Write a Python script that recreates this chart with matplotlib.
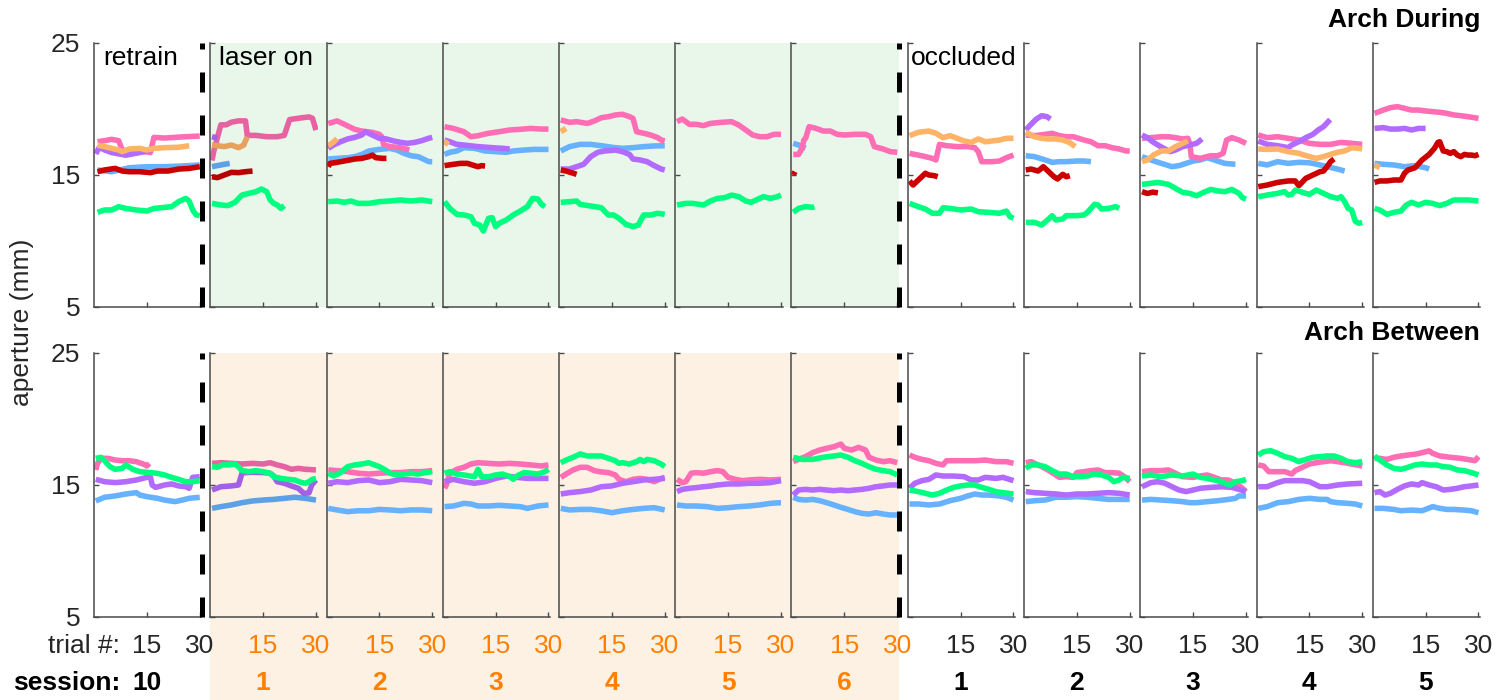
import matplotlib
matplotlib.use("Agg")
import matplotlib.pyplot as plt
from matplotlib.patches import Rectangle
from matplotlib.lines import Line2D

plt.rcParams['font.family'] = ['Liberation Sans', 'DejaVu Sans']

# ---------------------------------------------------------------- data
# running aperture (mm) per mouse, as (trial, value) pairs

# Arch During, retrain session 10
during_s10 = dict(
    pink=[(1, 17.52), (3, 17.6), (5, 17.7), (7, 17.6), (8, 16.9), (10, 16.8), (12, 16.7), (14, 16.8), (16, 16.7),
          (17, 17.85), (20, 17.8), (23, 17.85), (26, 17.9), (30, 17.95)],
    orange=[(1, 17.27), (3, 17.15), (5, 17.02), (7, 16.89), (8, 16.77), (10, 16.97), (13, 17.02), (15, 16.89),
            (17, 17.02), (20, 17.07), (24, 17.1), (27, 17.22)],
    purple=[(0.5, 16.6), (1.5, 17.1), (3, 16.9), (5, 16.7), (7, 16.6), (9, 16.5), (11, 16.6), (13, 16.7),
            (15, 16.8), (16, 16.9)],
    blue=[(1, 15.38), (5, 15.25), (10, 15.55), (15, 15.63), (20, 15.63), (25, 15.68), (30, 15.76)],
    red=[(1, 15.25), (3, 15.38), (6, 15.5), (8, 15.3), (10, 15.25), (13, 15.25), (16, 15.18), (18, 15.3),
         (21, 15.3), (24, 15.45), (27, 15.5), (30, 15.63)],
    green=[(1, 12.17), (3, 12.35), (5, 12.35), (7, 12.6), (9, 12.47), (12, 12.35), (15, 12.27), (17, 12.47),
           (19, 12.52), (22, 12.6), (24, 12.98), (26, 13.23), (27, 13.03), (28, 12.35), (29, 11.97), (30, 11.92)],
)

# Arch During, laser sessions 1-6
during_laser1 = dict(
    pink=[(0.5, 16.1), (1, 16.8), (2, 17.8), (3, 18.8), (4.5, 18.8), (6, 19.0), (8, 19.1), (10, 19.1),
          (10.5, 18.0), (13, 18.0), (16, 17.9), (19, 17.9), (21, 18.0), (22.5, 19.2), (25, 19.3), (28, 19.4),
          (29, 19.3), (30, 18.4)],
    orange=[(0.5, 17.27), (2, 17.22), (4, 17.15), (6, 17.27), (8, 17.07), (9.5, 17.27), (10.5, 17.9)],
    purple=[(0.5, 17.9), (2, 17.8)],
    blue=[(0.5, 15.63), (2, 15.71), (4, 15.81), (5.5, 15.88)],
    red=[(0.5, 14.87), (2, 14.8), (4, 15.0), (6, 15.2), (8, 15.18), (10, 15.25), (12, 15.3)],
    green=[(0.5, 12.85), (3, 12.73), (5, 12.68), (7, 12.93), (9, 13.48), (11, 13.61), (13, 13.74), (14.5, 13.94),
           (16, 13.74), (17, 13.11), (18, 12.85), (19, 12.73), (20, 12.47), (21, 12.68)],
)
during_laser2 = dict(
    pink=[(0.5, 18.9), (3, 19.1), (5, 18.85), (8, 18.46), (10, 18.33), (13, 18.23), (15, 18.08), (15.7, 17.9),
          (16.2, 17.3), (18, 17.15), (21, 17.07), (23.5, 16.9)],
    orange=[(0.5, 17.2), (2, 17.5), (3, 17.75)],
    purple=[(0.5, 17.02), (2, 17.27), (4, 17.52), (6, 17.73), (8, 17.85), (10, 18.03), (11, 18.28), (13, 18.03),
            (15, 17.78), (17, 17.73), (19, 17.58), (21, 17.47), (23, 17.4), (25, 17.47), (27, 17.6), (29, 17.78),
            (30, 17.85)],
    blue=[(0.5, 16.21), (3, 16.26), (6, 16.31), (8, 16.39), (10, 16.56), (12, 16.82), (15, 16.94), (18, 17.02),
          (20, 16.89), (22, 16.64), (24, 16.46), (26, 16.39), (28, 16.14), (29, 16.01), (30, 16.01)],
    red=[(0.5, 15.63), (1, 15.88), (3, 15.96), (5, 16.06), (8, 16.21), (10, 16.26), (12, 16.39), (13, 16.51),
         (14, 16.31), (16, 16.26), (17, 16.26)],
    green=[(0.5, 12.98), (3, 13.03), (5, 12.93), (7, 13.03), (9, 12.85), (12, 12.85), (15, 12.98), (18, 13.03),
           (21, 13.11), (24, 13.03), (27, 13.11), (30, 12.98)],
)
during_laser3 = dict(
    pink=[(0.5, 18.66), (3, 18.53), (6, 18.28), (8, 17.9), (10, 17.98), (13, 18.16), (16, 18.28), (19, 18.41),
          (22, 18.46), (25, 18.53), (28, 18.48), (30, 18.48)],
    orange=[(0.5, 17.27), (1.5, 17.6)],
    purple=[(0.5, 17.65), (2, 17.52), (4, 17.32), (6, 17.27), (10, 17.15), (14, 17.07), (17, 17.02), (19, 16.97)],
    blue=[(0.5, 16.56), (2, 16.72), (4, 16.82), (6, 17.07), (9, 17.02), (12, 16.82), (15, 16.77), (18, 16.72),
          (20, 16.82), (23, 16.89), (26, 16.94), (30, 16.94)],
    red=[(0.5, 15.71), (3, 15.81), (5, 15.88), (7, 15.88), (9, 15.71), (10, 15.63), (11, 15.71), (12, 15.68)],
    green=[(0.5, 12.98), (2, 12.47), (4, 12.02), (6, 11.97), (8, 11.84), (9, 11.34), (10.5, 11.21), (11.5, 10.76),
           (13, 11.72), (14, 11.77), (15, 11.09), (16, 11.34), (18, 11.59), (20, 11.97), (22, 12.27), (24, 12.6),
           (25.5, 13.23), (27, 13.18), (28, 12.78), (29, 12.6)],
)
during_laser4 = dict(
    pink=[(0.5, 19.17), (3, 18.99), (5, 19.04), (8, 18.91), (10, 19.09), (12, 19.34), (14, 19.42), (16, 19.55),
          (18, 19.6), (20, 19.42), (21, 19.29), (22, 18.28), (24, 18.16), (26, 18.03), (28, 17.83), (29, 17.65),
          (30, 17.58)],
    orange=[(0.5, 18.28), (2, 18.53)],
    blue=[(0.5, 16.82), (3, 17.15), (6, 17.32), (9, 17.32), (12, 17.22), (15, 17.1), (18, 17.02), (21, 17.07),
          (24, 17.15), (27, 17.2), (30, 17.22)],
    purple=[(0.5, 15.45), (3, 15.45), (5, 15.63), (7, 15.81), (9, 16.39), (11, 16.72), (13, 16.82), (16, 16.89),
            (18, 16.77), (20, 16.56), (21, 16.21), (23, 16.14), (25, 16.01), (27, 15.71), (29, 15.45), (30, 15.38)],
    red=[(0.5, 15.38), (2, 15.3), (3.5, 15.18), (5, 15.05)],
    green=[(0.5, 12.93), (3, 12.98), (5, 13.03), (6, 12.78), (9, 12.65), (12, 12.52), (14, 11.97), (15.5, 11.97),
           (17, 11.72), (19, 11.26), (21, 11.09), (22.5, 11.21), (24, 11.97), (26, 11.97), (28, 12.1), (30, 12.02)],
)
during_laser5 = dict(
    pink=[(0.5, 19.04), (2, 19.24), (4, 18.84), (6, 18.84), (8, 18.74), (10, 18.91), (13, 18.99), (16, 19.04),
          (18, 18.79), (20, 18.41), (22, 18.03), (24, 17.9), (26, 17.9), (28, 18.08), (30, 18.08)],
    green=[(0.5, 12.73), (3, 12.85), (5, 12.85), (8, 12.73), (10, 13.03), (12, 13.23), (14, 13.28), (16, 13.48),
           (18, 13.36), (20, 13.03), (21.5, 12.93), (23, 13.11), (25, 13.36), (27, 13.23), (29, 13.36), (30, 13.48)],
)
during_laser6 = dict(
    pink=[(0.5, 16.56), (2, 16.56), (3, 17.02), (3.5, 17.65), (4, 17.78), (5, 18.66), (7, 18.53), (9, 18.33),
          (11, 18.33), (13, 18.08), (15, 18.03), (18, 18.08), (21, 18.08), (22.5, 17.9), (23.5, 17.15), (26, 16.97),
          (28, 16.77), (30, 16.72)],
    blue=[(0.5, 17.4), (2, 17.27), (4, 17.02)],
    red=[(0.5, 15.0), (1, 15.25)],
    green=[(0.5, 12.17), (2, 12.47), (4, 12.6), (6, 12.55), (6.5, 12.6)],
)

# Arch During, occluded sessions 1-5
during_occ1 = dict(
    orange=[(0.5, 17.98), (3, 18.23), (6, 18.33), (8, 18.16), (10, 17.83), (12, 17.98), (14, 17.78), (16, 17.58),
            (18, 17.47), (20, 17.73), (22, 17.52), (24, 17.58), (26, 17.65), (28, 17.78), (30, 17.78)],
    pink=[(0.5, 16.64), (3, 16.51), (5, 16.39), (7, 16.26), (8, 16.14), (9, 17.32), (11, 17.22), (14, 17.15),
          (17, 17.15), (19, 17.07), (20, 16.77), (21, 16.01), (24, 16.01), (26, 16.06), (28, 16.31), (30, 16.51)],
    red=[(0.5, 14.55), (1.5, 14.24), (3, 14.62), (5, 15.13), (6, 15.0), (7.5, 14.95), (8.5, 14.87)],
    green=[(0.5, 12.85), (3, 12.6), (5, 12.42), (7, 12.1), (9, 12.1), (10, 12.52), (12, 12.47), (15, 12.35),
           (18, 12.42), (20, 12.22), (23, 12.17), (26, 12.1), (28, 12.27), (29, 11.84), (30, 11.72)],
)
during_occ2 = dict(
    purple=[(0.5, 18.41), (2, 18.84), (3.5, 19.24), (5, 19.49), (6.5, 19.42), (7.5, 19.24)],
    pink=[(0.5, 18.03), (3, 17.98), (6, 18.08), (8, 18.16), (10, 17.98), (12, 17.9), (14, 17.9), (17, 17.65),
          (19, 17.52), (21, 17.22), (23, 17.22), (25, 17.07), (27, 16.97), (29, 16.82), (30, 16.82)],
    orange=[(0.5, 18.23), (3, 17.9), (5, 17.78), (7, 17.73), (9, 17.73), (11, 17.65), (13, 17.45), (14.5, 17.15)],
    blue=[(0.5, 16.46), (3, 16.39), (6, 16.14), (8, 15.96), (10, 16.01), (12, 16.01), (15, 16.06), (17, 16.06),
          (19, 16.01)],
    red=[(0.5, 15.38), (2, 15.45), (4, 15.3), (5.5, 15.63), (7, 15.25), (8.5, 14.87), (9.5, 14.7), (11, 15.05),
         (12, 14.87), (13, 14.95)],
    green=[(0.5, 11.41), (3, 11.41), (5, 11.21), (7, 11.67), (8, 11.92), (9, 11.59), (11, 11.67), (12, 11.92),
           (15, 11.92), (17, 11.97), (18, 12.17), (19, 12.47), (20, 12.78), (21, 12.73), (22, 12.42), (24, 12.47),
           (26, 12.6), (27, 12.47)],
)
during_occ3 = dict(
    purple=[(0.5, 18.03), (2, 17.83), (3.5, 17.52), (5, 17.27), (7, 16.97), (8.5, 16.77), (10, 16.89), (12, 17.15),
            (14, 17.27), (16, 17.4), (17.5, 17.73)],
    pink=[(0.5, 17.78), (3, 17.83), (6, 17.9), (8, 17.9), (10, 17.83), (12, 17.73), (13.5, 17.78), (14, 17.4),
          (14.5, 16.39), (17, 16.26), (20, 16.46), (22, 16.46), (23.5, 16.64), (24.5, 17.65), (26, 17.83),
          (28, 17.65), (30, 17.4)],
    orange=[(0.5, 16.01), (2, 16.14), (4, 16.56), (6, 16.82), (8, 16.82), (10, 17.15), (12, 17.4), (13.5, 17.58)],
    blue=[(0.5, 16.39), (3, 16.14), (6, 15.88), (9, 15.63), (11, 15.71), (13, 15.88), (15, 16.06), (17, 16.14),
          (19, 16.31), (21, 16.14), (24, 15.88), (27, 15.81)],
    red=[(0.5, 13.74), (2, 13.6), (3.5, 13.7), (5, 13.65)],
    green=[(0.5, 14.29), (3, 14.37), (5, 14.44), (8, 14.29), (10, 13.99), (12, 13.69), (14, 13.61), (16, 13.43),
           (18, 13.69), (20, 13.91), (22, 13.79), (24, 13.74), (26, 13.91), (28, 13.61), (29, 13.28), (30, 13.18)],
)
during_occ4 = dict(
    purple=[(0.5, 17.58), (3, 17.32), (6, 17.22), (9, 17.07), (10, 17.27), (12, 17.52), (14, 17.83), (16, 18.08),
            (17.5, 18.41), (19, 18.66), (20.9, 19.2)],
    pink=[(0.5, 18.03), (3, 17.83), (6, 17.9), (9, 17.78), (12, 17.65), (15, 17.4), (18, 17.32), (21, 17.32),
          (24, 17.47), (27, 17.4), (30, 17.32)],
    orange=[(0.5, 16.97), (3, 16.94), (6, 16.97), (9, 16.77), (12, 16.64), (15, 16.39), (17, 16.26), (19, 16.39),
            (21, 16.56), (23, 16.72), (25, 16.82), (27, 17.07), (29, 17.02), (30, 16.97)],
    blue=[(0.5, 15.88), (3, 15.76), (6, 16.01), (9, 15.88), (12, 15.96), (15, 15.93), (18, 15.76), (20, 15.63),
          (23, 15.45), (25, 15.3)],
    red=[(0.5, 14.12), (3, 14.24), (6, 14.44), (9, 14.55), (11, 14.55), (12, 14.19), (14, 14.75), (16, 15.0),
         (18, 15.25), (19, 15.3), (20, 15.63), (21, 16.01), (22, 16.21)],
    green=[(0.5, 13.36), (3, 13.48), (6, 13.61), (8, 13.74), (9, 13.48), (10, 13.53), (11, 13.86), (13, 13.69),
           (15, 13.53), (17, 13.86), (19, 13.61), (21, 13.36), (23, 13.23), (24, 13.36), (25, 12.98), (26, 12.47),
           (27, 12.35), (28, 11.51), (29, 11.34), (30, 11.41)],
)
during_occ5 = dict(
    pink=[(0.5, 19.67), (3, 19.92), (5, 20.1), (7, 20.18), (9, 20.05), (11, 19.92), (13, 19.92), (15, 19.85),
          (17, 19.8), (19, 19.75), (21, 19.67), (23, 19.55), (25, 19.49), (27, 19.42), (30, 19.29)],
    purple=[(0.5, 18.53), (3, 18.59), (5, 18.48), (7, 18.48), (9, 18.53), (11, 18.41), (13, 18.53), (15, 18.53)],
    orange=[(0.5, 15.76), (2, 15.55)],
    blue=[(0.5, 15.88), (3, 15.81), (6, 15.76), (9, 15.63), (12, 15.71), (15, 15.55), (16, 15.45)],
    red=[(0.5, 14.44), (2, 14.55), (4, 14.55), (6, 14.62), (8, 14.62), (9, 15.13), (10, 15.38), (12, 15.55),
         (14, 16.14), (16, 16.56), (17.5, 17.02), (18.5, 17.47), (19, 17.52), (20, 16.82), (21, 16.77),
         (22, 16.64), (23, 16.77), (24, 16.51), (25, 16.39), (26, 16.56), (27, 16.51), (28, 16.51), (29, 16.46),
         (30, 16.56)],
    green=[(0.5, 12.47), (2, 12.35), (4, 12.02), (6, 12.17), (8, 12.27), (9.5, 12.73), (11, 12.93), (13, 12.73),
           (15, 12.93), (17, 12.85), (19, 12.68), (21, 12.85), (23, 13.11), (25, 13.11), (27, 13.11), (30, 13.03)],
)

# Arch Between, retrain session 10
between_s10 = dict(
    pink=[(0.5, 16.14), (1, 16.64), (2, 17.02), (4, 17.02), (6, 16.89), (8, 16.84), (10, 16.84), (12, 16.77),
          (14, 16.59), (15, 16.44), (15.7, 16.64)],
    green=[(0.5, 17.02), (2, 17.1), (3, 16.84), (4.5, 16.39), (6, 16.19), (8, 16.26), (9, 16.52), (11, 16.19),
           (13, 16.01), (16, 15.94), (18, 15.88), (20, 15.76), (22, 15.58), (24, 15.43), (26, 15.25), (28, 15.25),
           (30, 15.33)],
    purple=[(0.5, 15.43), (3, 15.25), (6, 15.18), (9, 15.25), (12, 15.38), (15, 15.58), (16, 15.63), (16.5, 15.0),
            (17.5, 14.82), (20, 15.0), (22, 15.08), (24, 14.93), (26, 14.87), (27, 14.75), (28, 15.58), (30, 15.63)],
    blue=[(0.5, 13.79), (3, 14.07), (6, 14.17), (9, 14.32), (12, 14.42), (13, 14.24), (15, 14.12), (18, 13.99),
          (20, 13.86), (23, 13.74), (25, 13.86), (27, 13.99), (30, 14.07)],
)

# Arch Between, laser sessions 1-6
between_laser1 = dict(
    pink=[(0.5, 16.64), (3, 16.69), (6, 16.64), (9, 16.59), (12, 16.64), (15, 16.59), (17, 16.69), (19, 16.52),
          (21, 16.39), (23, 16.19), (25, 16.26), (27, 16.19), (30, 16.14)],
    green=[(0.5, 16.39), (2, 16.34), (3.5, 16.52), (5, 16.52), (7, 16.59), (8, 16.39), (9, 16.09), (11, 16.01),
           (13, 16.09), (15, 16.01), (17, 15.88), (18, 15.63), (20, 15.5), (22, 15.43), (24, 15.38), (26, 15.18),
           (27, 15.13), (28, 15.25), (29, 15.43), (30, 15.5)],
    purple=[(0.5, 14.62), (3, 14.87), (6, 14.93), (8, 15.0), (9, 15.89), (10, 15.94), (12, 15.96), (15, 15.94),
            (17, 15.89), (18, 15.68), (19, 15.25), (21, 15.13), (23, 14.93), (25, 14.75), (26.5, 14.37), (28, 14.4),
            (28.8, 15.0), (30, 15.38)],
    blue=[(0.5, 13.23), (3, 13.36), (6, 13.49), (9, 13.66), (12, 13.79), (15, 13.86), (18, 13.91), (21, 13.99),
          (24, 14.07), (27, 13.99), (30, 13.86)],
)
between_laser2 = dict(
    pink=[(0.5, 16.14), (3, 16.09), (6, 16.01), (9, 15.89), (12, 15.83), (15, 15.89), (18, 15.94), (21, 15.94),
          (24, 16.01), (27, 16.01), (30, 16.09)],
    green=[(0.5, 15.89), (2, 15.68), (4, 15.94), (6, 16.39), (8, 16.52), (10, 16.59), (12, 16.69), (13, 16.59),
           (15, 16.39), (17, 16.09), (18, 15.89), (20, 15.76), (22, 15.83), (24, 15.89), (26, 15.83), (28, 15.94),
           (30, 16.01)],
    purple=[(0.5, 15.13), (3, 15.25), (6, 15.18), (9, 15.33), (12, 15.38), (15, 15.18), (18, 15.25), (21, 15.43),
            (24, 15.38), (27, 15.33), (30, 15.18)],
    blue=[(0.5, 13.23), (3, 13.11), (6, 12.98), (9, 13.05), (12, 13.05), (15, 13.15), (18, 13.11), (21, 13.05),
          (24, 13.11), (27, 13.11), (30, 13.05)],
)
between_laser3 = dict(
    pink=[(0.5, 14.75), (1, 15.0), (2, 15.89), (4, 16.19), (6, 16.34), (8, 16.59), (10, 16.69), (13, 16.64),
          (16, 16.59), (19, 16.64), (22, 16.59), (25, 16.52), (28, 16.44), (30, 16.52)],
    green=[(0.5, 15.89), (2, 16.01), (4, 15.83), (6, 15.76), (9, 15.63), (10, 16.19), (11, 15.63), (13, 15.63),
           (15, 15.76), (17, 15.83), (19, 15.63), (20, 15.43), (21, 15.68), (23, 15.94), (25, 15.89), (27, 15.83),
           (29, 16.01), (30, 16.19)],
    purple=[(0.5, 15.25), (3, 15.43), (6, 15.25), (9, 15.13), (12, 15.25), (15, 15.5), (18, 15.68), (21, 15.58),
            (24, 15.5), (27, 15.5), (30, 15.5)],
    blue=[(0.5, 13.36), (3, 13.41), (6, 13.61), (8, 13.56), (10, 13.41), (13, 13.41), (16, 13.46), (19, 13.41),
          (22, 13.36), (24, 13.23), (27, 13.41), (30, 13.49)],
)
between_laser4 = dict(
    green=[(0.5, 16.69), (2, 16.89), (4, 17.1), (6, 17.35), (8, 17.2), (10, 17.2), (12, 17.2), (14, 17.02),
           (16, 16.84), (17, 16.64), (18, 16.69), (20, 16.59), (22, 16.77), (23, 16.94), (24, 16.77), (25, 16.94),
           (27, 16.84), (29, 16.59), (30, 16.39)],
    pink=[(0.5, 15.58), (2, 15.83), (4, 16.14), (6, 16.34), (8, 16.34), (10, 16.09), (12, 15.99), (14, 15.94),
          (16, 15.76), (17, 15.43), (19, 15.25), (21, 15.43), (23, 15.5), (25, 15.43), (27, 15.25), (29, 15.5),
          (30, 15.58)],
    purple=[(0.5, 14.32), (3, 14.42), (6, 14.5), (9, 14.62), (12, 14.87), (15, 14.93), (18, 15.13), (21, 15.25),
            (24, 15.38), (27, 15.43), (30, 15.5)],
    blue=[(0.5, 13.23), (3, 13.11), (6, 13.15), (9, 13.15), (12, 13.05), (15, 12.9), (18, 13.05), (21, 13.15),
          (24, 13.23), (27, 13.28), (30, 13.11)],
)
between_laser5 = dict(
    pink=[(0.5, 15.43), (2, 15.18), (3, 15.25), (4.5, 15.89), (6, 15.94), (8, 15.89), (10, 16.01), (12, 16.09),
          (13.5, 16.01), (15, 15.58), (17, 15.43), (19, 15.33), (21, 15.38), (24, 15.43), (27, 15.38), (30, 15.43)],
    purple=[(0.5, 14.5), (2, 14.67), (4, 14.75), (6, 14.8), (8, 14.87), (10, 14.92), (12, 15.0), (15, 15.08),
            (18, 15.08), (21, 15.13), (24, 15.13), (27, 15.18), (30, 15.33)],
    blue=[(0.5, 13.49), (3, 13.41), (6, 13.41), (9, 13.36), (12, 13.23), (15, 13.28), (18, 13.36), (21, 13.41),
          (24, 13.49), (27, 13.61), (30, 13.66)],
)
between_laser6 = dict(
    pink=[(0.5, 16.77), (2, 16.94), (4, 17.15), (6, 17.45), (8, 17.65), (10, 17.78), (12, 17.9), (14, 18.1),
          (15, 17.78), (17, 17.65), (19, 17.85), (21, 17.65), (22, 17.1), (24, 16.89), (26, 16.77), (28, 16.84),
          (30, 16.69)],
    green=[(0.5, 17.1), (3, 16.94), (6, 16.94), (9, 17.1), (12, 17.2), (14, 17.27), (16, 17.1), (18, 16.84),
           (20, 16.64), (22, 16.39), (24, 16.19), (26, 16.09), (28, 16.01), (30, 15.76)],
    purple=[(0.5, 14.24), (2, 14.62), (4, 14.67), (6, 14.62), (8, 14.67), (10, 14.62), (12, 14.57), (14, 14.62),
            (16, 14.57), (18, 14.62), (20, 14.67), (22, 14.75), (24, 14.87), (26, 14.93), (28, 15.0), (30, 15.0)],
    blue=[(0.5, 14.07), (2, 13.91), (4, 13.86), (6, 13.91), (8, 13.81), (10, 13.66), (12, 13.49), (14, 13.31),
          (16, 13.15), (18, 12.98), (20, 12.85), (22, 12.8), (24, 12.9), (26, 12.8), (28, 12.73), (30, 12.73)],
)

# Arch Between, occluded sessions 1-5
between_occ1 = dict(
    pink=[(0.5, 17.27), (2, 17.1), (4, 16.94), (6, 16.84), (8, 16.64), (10, 16.52), (11, 16.84), (13, 16.84),
          (16, 16.84), (19, 16.84), (22, 16.89), (25, 16.77), (28, 16.77), (30, 16.64)],
    purple=[(0.5, 14.75), (2, 15.13), (4, 15.33), (6, 15.43), (8, 15.76), (10, 15.68), (13, 15.68), (16, 15.63),
            (18, 15.38), (20, 15.38), (22, 15.58), (25, 15.5), (27, 15.58), (30, 15.33)],
    green=[(0.5, 14.62), (3, 14.5), (5, 14.37), (7, 14.24), (9, 14.37), (11, 14.62), (13, 14.82), (15, 14.93),
           (17, 15.0), (19, 15.0), (21, 14.82), (23, 14.67), (25, 14.5), (27, 14.42), (30, 14.32)],
    blue=[(0.5, 13.56), (3, 13.56), (6, 13.49), (9, 13.56), (12, 13.81), (15, 13.99), (17, 14.17), (19, 14.32),
          (21, 14.24), (23, 14.24), (26, 14.17), (28, 14.07), (30, 13.86)],
)
between_occ2 = dict(
    pink=[(0.5, 16.69), (2, 16.77), (4, 16.52), (6, 16.26), (8, 15.94), (10, 15.58), (12, 15.63), (14, 15.58),
          (15, 15.94), (17, 16.01), (19, 16.09), (21, 16.14), (23, 15.94), (25, 15.94), (27, 15.89), (28.5, 15.63),
          (30, 15.25)],
    green=[(0.5, 16.26), (2, 16.52), (4, 16.52), (6, 16.39), (8, 16.09), (10, 15.83), (12, 15.83), (14, 15.63),
           (16, 15.63), (18, 15.68), (20, 15.83), (22, 15.76), (24, 15.58), (25.5, 15.25), (27, 15.38), (28, 15.58),
           (30, 15.5)],
    purple=[(0.5, 14.5), (3, 14.42), (6, 14.37), (9, 14.32), (12, 14.24), (15, 14.32), (18, 14.32), (21, 14.37),
            (24, 14.42), (27, 14.37), (30, 14.24)],
    blue=[(0.5, 13.74), (3, 13.81), (6, 13.86), (9, 14.07), (12, 14.07), (15, 14.12), (18, 14.07), (21, 13.99),
          (24, 13.91), (27, 13.91), (30, 13.91)],
)
between_occ3 = dict(
    pink=[(0.5, 16.01), (3, 16.09), (6, 16.09), (8, 16.14), (10, 15.89), (12, 15.63), (15, 15.58), (17, 15.68),
          (19, 15.76), (21, 15.58), (23, 15.38), (25, 15.38), (27, 15.13), (29, 14.75), (30, 14.5)],
    green=[(0.5, 15.68), (3, 15.76), (6, 15.63), (9, 15.76), (12, 15.68), (15, 15.83), (17, 15.58), (19, 15.5),
           (21, 15.38), (23, 15.25), (24, 15.13), (25.5, 15.0), (27, 15.25), (29, 15.33), (30, 15.43)],
    purple=[(0.5, 14.87), (3, 15.18), (5, 15.25), (7, 15.13), (9, 14.87), (11, 14.62), (13, 14.5), (15, 14.62),
            (17, 14.75), (20, 14.82), (23, 14.87), (26, 14.82), (28, 14.67), (30, 14.5)],
    blue=[(0.5, 13.86), (3, 13.91), (6, 13.86), (9, 13.81), (12, 13.74), (14, 13.66), (16, 13.66), (19, 13.74),
          (22, 13.81), (25, 13.91), (27, 13.99), (28, 14.17), (30, 14.17)],
)
between_occ4 = dict(
    green=[(0.5, 17.27), (2, 17.52), (4, 17.6), (6, 17.4), (8, 17.15), (10, 17.02), (12, 16.77), (14, 16.94),
           (16, 17.1), (18, 17.15), (20, 17.2), (22, 17.2), (24, 17.02), (26, 16.77), (28, 16.69), (30, 16.77)],
    pink=[(0.5, 16.52), (2, 16.44), (3.5, 16.01), (5, 16.01), (8, 16.01), (10, 15.83), (11, 16.09), (13, 16.34),
          (15, 16.59), (17, 16.69), (19, 16.77), (21, 16.84), (23, 16.77), (25, 16.69), (27, 16.59), (30, 16.44)],
    purple=[(0.5, 14.87), (3, 14.87), (6, 15.18), (8, 15.33), (10, 15.33), (13, 15.33), (15, 15.25), (17, 15.0),
            (18, 14.87), (20, 14.87), (23, 15.0), (26, 15.08), (30, 15.13)],
    blue=[(0.5, 13.23), (3, 13.36), (6, 13.66), (9, 13.74), (12, 13.91), (15, 13.99), (18, 13.91), (20, 13.91),
          (21, 13.74), (23, 13.66), (26, 13.61), (28, 13.56), (30, 13.41)],
)
between_occ5 = dict(
    pink=[(0.5, 17.02), (2, 17.02), (4, 16.94), (6, 17.1), (8, 17.2), (10, 17.27), (12, 17.33), (14, 17.45),
          (16, 17.58), (17, 17.4), (19, 17.2), (22, 17.1), (25, 17.02), (28, 16.89), (29, 16.84), (30, 17.15)],
    green=[(0.5, 17.2), (2, 16.89), (4, 16.52), (6, 16.26), (8, 16.19), (10, 16.34), (12, 16.52), (14, 16.59),
           (16, 16.52), (18, 16.52), (20, 16.39), (22, 16.34), (24, 16.14), (26, 16.09), (28, 15.94), (30, 15.76)],
    purple=[(0.5, 14.42), (2, 14.5), (3.5, 14.24), (5, 14.37), (7, 14.67), (9, 14.93), (11, 15.08), (13, 15.0),
            (14, 15.18), (16, 15.0), (18, 14.87), (20, 14.62), (22, 14.67), (24, 14.75), (26, 14.87), (28, 14.93),
            (30, 15.0)],
    blue=[(0.5, 13.23), (3, 13.23), (6, 13.15), (8, 13.05), (11, 13.1), (14, 13.05), (17, 13.36), (19, 13.23),
          (21, 13.15), (23, 13.15), (26, 13.1), (28, 13.05), (30, 12.9)],
)

during_panels = [during_s10, during_laser1, during_laser2, during_laser3, during_laser4, during_laser5,
                 during_laser6, during_occ1, during_occ2, during_occ3, during_occ4, during_occ5]
between_panels = [between_s10, between_laser1, between_laser2, between_laser3, between_laser4, between_laser5,
                  between_laser6, between_occ1, between_occ2, between_occ3, between_occ4, between_occ5]

session_labels = ["10", "1", "2", "3", "4", "5", "6", "1", "2", "3", "4", "5"]
laser_panels = [1, 2, 3, 4, 5, 6]
trial_ticks = [15, 30]
aperture_ticks = [5, 15, 25]

# ---------------------------------------------------------------- style
mouse_colors = {"blue": "#66B2FF", "pink": "#FF6EB4", "purple": "#B36BFF",
                "orange": "#FFB366", "red": "#CC0000", "green": "#00FF80"}
draw_order = ["blue", "pink", "purple", "orange", "red", "green"]
ORANGE = "#FF8000"
INK = "#262626"
SPINE = "#4A4A4A"
LASER_GREEN = "#E9F6EA"
LASER_PEACH = "#FDF1E4"
FS = 19

W, H = 1504, 700
fig = plt.figure(figsize=(W / 100, H / 100), dpi=100)

ax_w = 107.5
step = 116.25
x0 = 94
rows_top = [43, 353]  # pixel top of each row
row_h = 264


def fx(px):
    return px / W


def fy(py):
    return 1 - py / H


def dim(c, f=0.9):
    r, g, b = matplotlib.colors.to_rgb(c)
    return (r * f, g * f, b * f)


# shaded laser sessions
laser_left = x0 + step * laser_panels[0]
laser_right = x0 + step * laser_panels[-1] + ax_w
fig.patches.append(Rectangle((fx(laser_left), fy(rows_top[0] + row_h)), fx(laser_right - laser_left),
                             row_h / H, transform=fig.transFigure, facecolor=LASER_GREEN,
                             edgecolor="none", zorder=-1))
fig.patches.append(Rectangle((fx(laser_left), 0), fx(laser_right - laser_left), fy(rows_top[1]),
                             transform=fig.transFigure, facecolor=LASER_PEACH, edgecolor="none", zorder=-1))

for r, panels in enumerate([during_panels, between_panels]):
    top = rows_top[r]
    for k, series in enumerate(panels):
        left = x0 + step * k
        ax = fig.add_axes([fx(left), fy(top + row_h), ax_w / W, row_h / H])
        ax.set_facecolor("none")
        for name in draw_order:
            if name not in series:
                continue
            t = [p[0] for p in series[name]]
            v = [p[1] for p in series[name]]
            col = mouse_colors[name]
            if k == 1 and name != "green":
                col = dim(col)
            ax.plot(t, v, color=col, lw=4.0, solid_joinstyle="round", solid_capstyle="butt")
        ax.set_xlim(0, 30.5)
        ax.set_ylim(5, 25)
        for s in ["top", "right"]:
            ax.spines[s].set_visible(False)
        for s in ["left", "bottom"]:
            ax.spines[s].set_color(SPINE)
            ax.spines[s].set_linewidth(1.1)
        ax.set_yticks(aperture_ticks)
        ax.set_xticks(trial_ticks)
        ax.tick_params(direction="in", length=3.5, width=1, color=SPINE, labelsize=FS, labelcolor=INK)
        ax.tick_params(axis="y", pad=10)
        ax.tick_params(axis="x", pad=12)
        if k != 0:
            ax.set_yticklabels([])
        if r == 0:
            ax.set_xticklabels([])
        else:
            for lab in ax.get_xticklabels():
                lab.set_color(ORANGE if k in laser_panels else INK)
            # session number under the 15th trial
            fig.text(fx(left + ax_w * 15 / 30.5), fy(683), session_labels[k], ha="center", va="center",
                     fontsize=FS, fontweight="bold", color=ORANGE if k in laser_panels else "black")

# dashed separators between retrain / laser / occluded
for xs in [x0 + ax_w, x0 + step * laser_panels[-1] + ax_w]:
    for top in rows_top:
        fig.lines.append(Line2D([fx(xs), fx(xs)], [fy(top + row_h), fy(top)], transform=fig.transFigure,
                                color="black", lw=3.6, linestyle=(0, (4, 4.6)), solid_capstyle="butt",
                                dash_capstyle="butt", zorder=5))

# condition labels
fig.text(fx(103), fy(58), "retrain", fontsize=FS, ha="left", va="center", color="black")
fig.text(fx(219), fy(58), "laser on", fontsize=FS, ha="left", va="center", color="black")
fig.text(fx(911), fy(58), "occluded", fontsize=FS, ha="left", va="center", color="black")

fig.text(fx(1480), fy(20), "Arch During", fontsize=FS, fontweight="bold", ha="right", va="center")
fig.text(fx(1480), fy(333), "Arch Between", fontsize=FS, fontweight="bold", ha="right", va="center")

fig.text(fx(22), fy(322), "aperture (mm)", fontsize=FS, rotation=90, ha="center", va="center", color=INK)
fig.text(fx(120), fy(646), "trial #:", fontsize=FS, ha="right", va="center", color=INK)
fig.text(fx(120), fy(683), "session:", fontsize=FS, fontweight="bold", ha="right", va="center", color="black")

fig.savefig("out.png", dpi=100)
